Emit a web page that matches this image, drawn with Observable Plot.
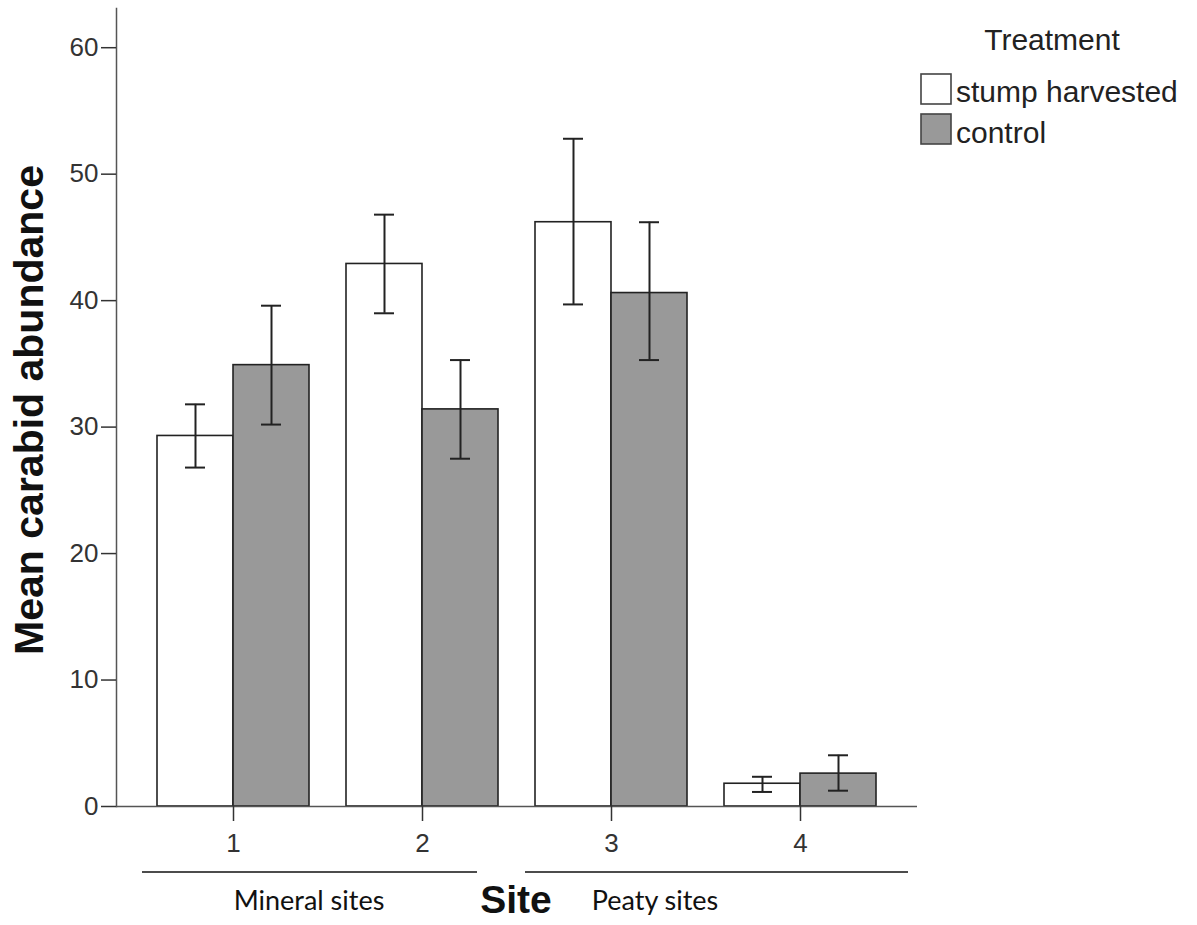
<!DOCTYPE html>
<html>
<head>
<meta charset="utf-8">
<script src="https://cdn.jsdelivr.net/npm/d3@7"></script>
<script src="https://cdn.jsdelivr.net/npm/@observablehq/plot@0.6"></script>
<style>
  html, body { margin: 0; padding: 0; background: #fff; }
  #wrap { position: relative; width: 1197px; height: 925px; overflow: hidden; }
  #overlay { position: absolute; left: 0; top: 0; pointer-events: none; }
</style>
</head>
<body>
<div id="wrap"></div>
<script>
// ---- data ----
const sites = ["1", "2", "3", "4"];
const treatments = ["stump harvested", "control"];
const stumpMean = [29.3, 42.9, 46.2, 1.8];
const stumpLo   = [26.8, 39.0, 39.7, 1.15];
const stumpHi   = [31.8, 46.8, 52.8, 2.35];
const controlMean = [34.9, 31.4, 40.6, 2.6];
const controlLo   = [30.2, 27.5, 35.3, 1.25];
const controlHi   = [39.6, 35.3, 46.2, 4.05];
const yTicks = [0, 10, 20, 30, 40, 50, 60];
const groupLabels = ["Mineral sites", "Peaty sites"];

const stump = sites.map((s, i) => ({site: s, mean: stumpMean[i], lo: stumpLo[i], hi: stumpHi[i]}));
const control = sites.map((s, i) => ({site: s, mean: controlMean[i], lo: controlLo[i], hi: controlHi[i]}));

// ---- layout ----
const W = 1197, H = 925;
const ml = 116, mr = 280, mt = 8, mb = 119;
const pInner = 0.197, pOuter = 0.214;
const step = (W - ml - mr) / (sites.length - pInner + 2 * pOuter);
const bw = step * (1 - pInner);
const half = bw / 2, quarter = bw / 4;
const capInset = (bw - 20) / 2;

const ink = "#222";
const grey = "#999999";

const plot = Plot.plot({
  width: W, height: H,
  marginLeft: ml, marginRight: mr, marginTop: mt, marginBottom: mb,
  style: {fontFamily: "'Liberation Sans', Arial, sans-serif", fontSize: "26px", color: "#333", background: "white"},
  x: {type: "band", domain: sites, paddingInner: pInner, paddingOuter: pOuter, axis: null},
  y: {domain: [0, 63.1], axis: null},
  marks: [
    Plot.barY(stump, {x: "site", y: "mean", fill: "white", stroke: ink, strokeWidth: 1.6, insetRight: half}),
    Plot.barY(control, {x: "site", y: "mean", fill: grey, stroke: ink, strokeWidth: 1.6, insetLeft: half}),
    // error bars
    Plot.ruleX(stump, {x: "site", y1: "lo", y2: "hi", dx: -quarter, stroke: ink, strokeWidth: 2}),
    Plot.ruleX(control, {x: "site", y1: "lo", y2: "hi", dx: quarter, stroke: ink, strokeWidth: 2}),
    Plot.tickY(stump, {x: "site", y: "hi", dx: -quarter, insetLeft: capInset, insetRight: capInset, stroke: ink, strokeWidth: 2}),
    Plot.tickY(stump, {x: "site", y: "lo", dx: -quarter, insetLeft: capInset, insetRight: capInset, stroke: ink, strokeWidth: 2}),
    Plot.tickY(control, {x: "site", y: "hi", dx: quarter, insetLeft: capInset, insetRight: capInset, stroke: ink, strokeWidth: 2}),
    Plot.tickY(control, {x: "site", y: "lo", dx: quarter, insetLeft: capInset, insetRight: capInset, stroke: ink, strokeWidth: 2}),
    // axes
    Plot.ruleY([0], {stroke: "#555", strokeWidth: 1.5}),
    Plot.frame({anchor: "left", stroke: "#555", strokeWidth: 1.5}),
    Plot.axisY({ticks: yTicks, tickSize: 15, tickPadding: 3, fontSize: 26, label: null, stroke: "#333", strokeWidth: 1.5, tickFormat: d3.format("d")}),
    Plot.axisX({tickSize: 15, tickPadding: 12, fontSize: 26, label: null, stroke: "#333", strokeWidth: 1.5})
  ]
});
document.getElementById("wrap").appendChild(plot);

// ---- annotations and legend (overlay) ----
const svg = d3.select("#wrap").append("svg")
  .attr("id", "overlay").attr("width", W).attr("height", H);

// y-axis title
svg.append("text")
  .attr("transform", "translate(43,410) rotate(-90)")
  .attr("text-anchor", "middle")
  .style("font-family", "'Liberation Sans', Arial, sans-serif")
  .style("font-weight", "bold").style("font-size", "41px").attr("fill", "#111")
  .text("Mean carabid abundance");

// x-axis title
svg.append("text")
  .attr("x", 516).attr("y", 913).attr("text-anchor", "middle")
  .style("font-family", "'Liberation Sans', Arial, sans-serif")
  .style("font-weight", "bold").style("font-size", "39px").attr("fill", "#111")
  .text("Site");

// group lines and labels
svg.append("line").attr("x1", 142).attr("x2", 477).attr("y1", 872).attr("y2", 872)
  .attr("stroke", "#111").attr("stroke-width", 1.6);
svg.append("line").attr("x1", 525).attr("x2", 908).attr("y1", 872).attr("y2", 872)
  .attr("stroke", "#111").attr("stroke-width", 1.6);
svg.append("text").attr("x", 309).attr("y", 910).attr("text-anchor", "middle")
  .style("font-family", "Lato, 'Open Sans', sans-serif").style("font-size", "27px").attr("fill", "#111")
  .text(groupLabels[0]);
svg.append("text").attr("x", 655).attr("y", 910).attr("text-anchor", "middle")
  .style("font-family", "Lato, 'Open Sans', sans-serif").style("font-size", "27px").attr("fill", "#111")
  .text(groupLabels[1]);

// legend
const lg = svg.append("g").style("font-family", "'Liberation Sans', Arial, sans-serif").attr("fill", "#222");
lg.append("text").attr("x", 1052).attr("y", 50).attr("text-anchor", "middle").style("font-size", "30px").text("Treatment");
const fills = ["white", grey];
treatments.forEach((t, i) => {
  lg.append("rect").attr("x", 921).attr("y", 74 + i * 40).attr("width", 30).attr("height", 30)
    .attr("fill", fills[i]).attr("stroke", "#444").attr("stroke-width", 1.6);
  lg.append("text").attr("x", 956).attr("y", 102 + i * 41).style("font-size", "30px").text(t);
});
</script>
</body>
</html>
